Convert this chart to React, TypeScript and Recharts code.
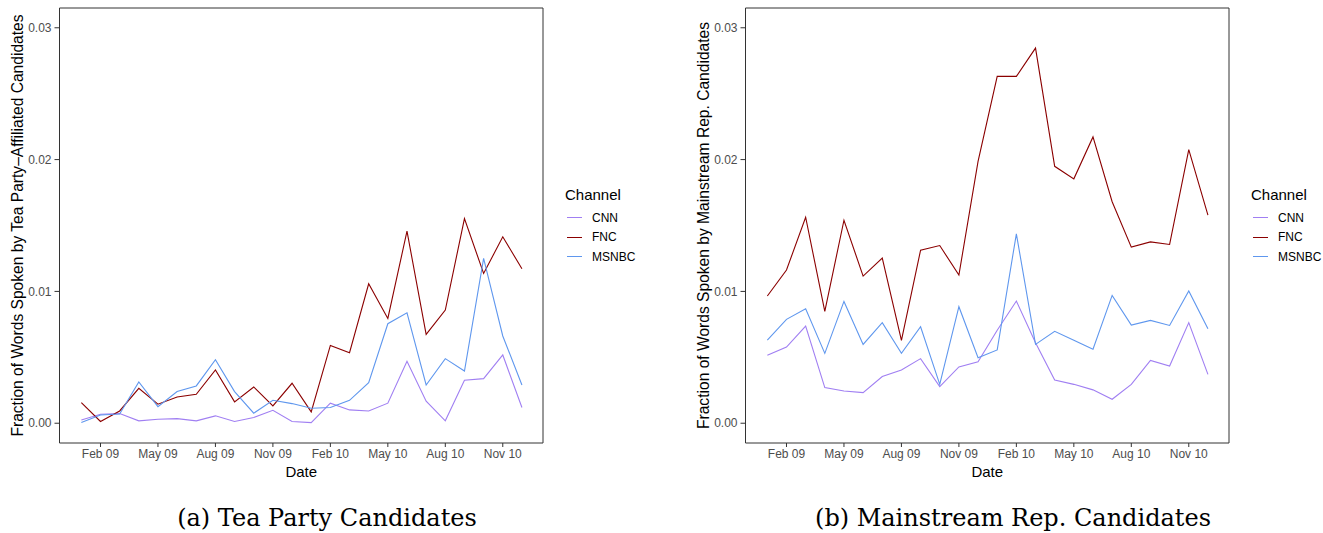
import { LineChart, Line, XAxis, YAxis, ReferenceArea, Legend } from 'recharts'

// monthly observations, Jan 09 .. Dec 10 (index 0..23)
const monthIndex = [0, 1, 2, 3, 4, 5, 6, 7, 8, 9, 10, 11, 12, 13, 14, 15, 16, 17, 18, 19, 20, 21, 22, 23]
const tickMonths = [1, 4, 7, 10, 13, 16, 19, 22]
const tickLabels = ['Feb 09', 'May 09', 'Aug 09', 'Nov 09', 'Feb 10', 'May 10', 'Aug 10', 'Nov 10']
const yTicks = [0, 0.01, 0.02, 0.03]

const channels = ['CNN', 'FNC', 'MSNBC']
const colors = ['#a07ff2', '#8b0000', '#5f97ee']

// (a) Tea Party candidates
const teaCNN = [0.00025, 0.00068, 0.00073, 0.00018, 0.0003, 0.00035, 0.00018, 0.00056, 0.00013, 0.00043, 0.00098, 0.00013,
  0.00005, 0.00152, 0.00101, 0.00093, 0.00152, 0.0047, 0.00167, 0.00018, 0.00326, 0.00338, 0.00518, 0.00119]
const teaFNC = [0.00157, 0.00013, 0.00093, 0.00265, 0.00144, 0.00199, 0.0022, 0.00404, 0.00162, 0.00275, 0.00131, 0.00303,
  0.00086, 0.0059, 0.00535, 0.01058, 0.00795, 0.01457, 0.00674, 0.00859, 0.01553, 0.01136, 0.01414, 0.01172]
const teaMSNBC = [0.00005, 0.00063, 0.0007, 0.00313, 0.00126, 0.0024, 0.00283, 0.00482, 0.0024, 0.00076, 0.00174, 0.00149,
  0.00114, 0.00119, 0.00174, 0.00308, 0.00755, 0.00838, 0.0029, 0.0049, 0.00396, 0.0125, 0.00662, 0.0029]

// (b) Mainstream Republican candidates
const mainCNN = [0.00515, 0.00578, 0.00737, 0.0027, 0.00245, 0.00232, 0.00354, 0.00404, 0.0049, 0.00278, 0.00427, 0.00467,
  0.00705, 0.00927, 0.00611, 0.00328, 0.00295, 0.00253, 0.00182, 0.00295, 0.00477, 0.00434, 0.00763, 0.00371]
const mainFNC = [0.00965, 0.01162, 0.01563, 0.00848, 0.0154, 0.01116, 0.01253, 0.00629, 0.01313, 0.01348, 0.01124, 0.01987,
  0.02631, 0.02631, 0.02846, 0.01949, 0.01854, 0.02172, 0.0168, 0.01336, 0.01376, 0.01356, 0.02076, 0.01578]
const mainMSNBC = [0.00631, 0.00788, 0.00869, 0.0053, 0.00924, 0.00598, 0.00763, 0.0053, 0.00732, 0.00295, 0.00884, 0.00497,
  0.00556, 0.01437, 0.00598, 0.00697, 0.00629, 0.00561, 0.0097, 0.00745, 0.0078, 0.00742, 0.01003, 0.00717]

const X_DOMAIN: [number, number] = [-1.14, 24.1]
const Y_DOMAIN: [number, number] = [-0.0015, 0.0315]
const SANS = '"Liberation Sans", Arial, Helvetica, sans-serif'

function rows(cnn: number[], fnc: number[], msnbc: number[]) {
  return monthIndex.map((m, i) => ({ m, CNN: cnn[i], FNC: fnc[i], MSNBC: msnbc[i] }))
}

function ChannelLegend(props: any) {
  const payload = props.payload || []
  return (
    <div style={{ width: 100, paddingLeft: 22, boxSizing: 'border-box', fontFamily: SANS, color: '#000' }}>
      <div style={{ fontSize: 15, height: 26, lineHeight: '26px' }}>Channel</div>
      {payload.map((p: any) => (
        <div key={p.value} style={{ display: 'flex', alignItems: 'center', height: 19.5 }}>
          <span style={{ display: 'inline-block', width: 15, marginLeft: 2, borderTop: `1.3px solid ${p.color}` }} />
          <span style={{ marginLeft: 10, fontSize: 12 }}>{p.value}</span>
        </div>
      ))}
    </div>
  )
}

function Panel({ data, yTitle }: { data: any[]; yTitle: string }) {
  return (
    <LineChart width={643} height={480} data={data} margin={{ top: 8, right: 0, bottom: 0, left: 0 }}>
      <XAxis
        dataKey="m"
        type="number"
        domain={X_DOMAIN}
        ticks={tickMonths}
        tickFormatter={(v: number) => tickLabels[tickMonths.indexOf(v)]}
        allowDataOverflow
        height={37}
        axisLine={false}
        tickSize={4}
        tickMargin={2}
        tickLine={{ stroke: '#333333' }}
        tick={{ fill: '#4d4d4d', fontSize: 12, fontFamily: SANS }}
        label={{ value: 'Date', position: 'insideBottom', offset: 3, fill: '#000', fontSize: 15, fontFamily: SANS }}
      />
      <YAxis
        type="number"
        domain={Y_DOMAIN}
        ticks={yTicks}
        tickFormatter={(v: number) => v.toFixed(2)}
        allowDataOverflow
        width={59.5}
        axisLine={false}
        tickSize={5}
        tickMargin={3}
        tickLine={{ stroke: '#333333' }}
        tick={{ fill: '#4d4d4d', fontSize: 12, fontFamily: SANS }}
        label={{ value: yTitle, angle: -90, position: 'center', dx: -12, fill: '#000', fontSize: 15.6, fontFamily: SANS }}
      />
      <ReferenceArea
        x1={X_DOMAIN[0]}
        x2={X_DOMAIN[1]}
        y1={Y_DOMAIN[0]}
        y2={Y_DOMAIN[1]}
        fill="none"
        fillOpacity={0}
        stroke="#333333"
        strokeWidth={1}
      />
      {channels.map((c, i) => (
        <Line key={c} type="linear" dataKey={c} stroke={colors[i]} strokeWidth={1.1} dot={false} isAnimationActive={false} />
      ))}
      <Legend layout="vertical" align="right" verticalAlign="top" wrapperStyle={{ top: 182 }} content={ChannelLegend} />
    </LineChart>
  )
}

const captionStyle = {
  position: 'absolute' as const,
  top: 503,
  fontFamily: '"DejaVu Serif", serif',
  fontSize: 24,
  lineHeight: '30px',
  color: '#000',
  textAlign: 'center' as const,
  whiteSpace: 'nowrap' as const,
}

export default function App() {
  return (
    <div style={{ position: 'absolute', left: 0, top: 0, width: 1323, height: 533, background: '#fff', overflow: 'hidden' }}>
      <div style={{ position: 'absolute', left: 0, top: 0 }}>
        <Panel data={rows(teaCNN, teaFNC, teaMSNBC)} yTitle="Fraction of Words Spoken by Tea Party–Affiliated Candidates" />
      </div>
      <div style={{ position: 'absolute', left: 686, top: 0 }}>
        <Panel data={rows(mainCNN, mainFNC, mainMSNBC)} yTitle="Fraction of Words Spoken by Mainstream Rep. Candidates" />
      </div>
      <div style={{ ...captionStyle, left: 127, width: 400 }}>(a) Tea Party Candidates</div>
      <div style={{ ...captionStyle, left: 763, width: 500 }}>(b) Mainstream Rep. Candidates</div>
    </div>
  )
}
